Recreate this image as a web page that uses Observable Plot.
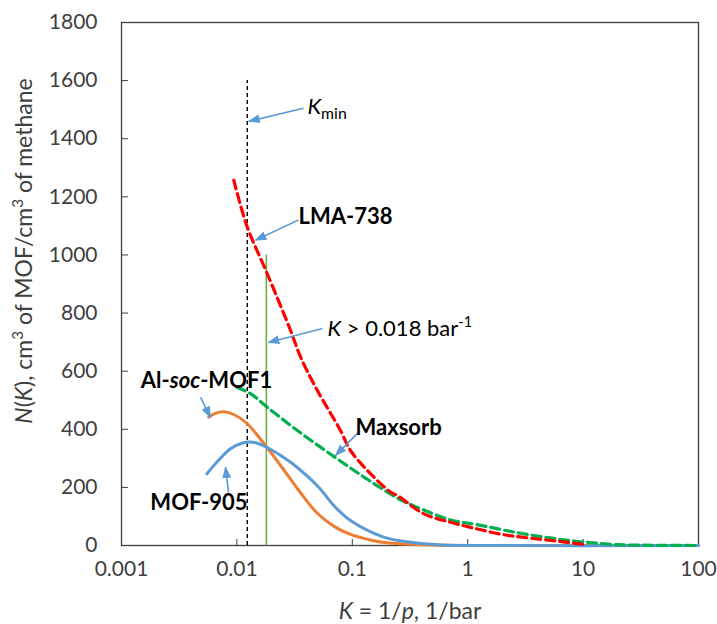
<!DOCTYPE html>
<html><head><meta charset="utf-8">
<script src="https://cdn.jsdelivr.net/npm/d3@7"></script>
<script src="https://cdn.jsdelivr.net/npm/@observablehq/plot@0.6"></script>
<style>body{margin:0;background:#fff} svg{display:block}</style>
</head><body><div id="chart"></div>
<script>
// ---- axis ticks ----
const xTicks = [0.001, 0.01, 0.1, 1, 10, 100];
const yTicks = [0, 200, 400, 600, 800, 1000, 1200, 1400, 1600, 1800];

// ---- series (K in 1/bar, N(K)) ----
const lmaK = [0.0094, 0.0123, 0.0183, 0.0291, 0.0356, 0.0497, 0.079, 0.0964, 0.154, 0.214, 0.25, 0.417, 0.709, 1.13, 2, 3.7, 7.3, 10];
const lmaN = [1257, 1096, 936, 741, 649, 534, 396, 327, 235, 184, 170, 109, 80, 60, 38, 24, 11, 4];

const maxK = [0.01, 0.0131, 0.0183, 0.035, 0.07, 0.135, 0.26, 0.4, 0.71, 1.2, 2.7, 5.2, 9.5, 20, 50, 100];
const maxN = [545, 523, 476, 390, 305, 228, 158, 125, 88, 72, 44, 26, 13, 3, 0.5, 0];

const alK = [0.0057, 0.0065, 0.0077, 0.0095, 0.0123, 0.0181, 0.025, 0.035, 0.05, 0.07, 0.0964, 0.14, 0.19, 0.32, 0.6, 1, 100];
const alN = [442, 455, 460, 450, 419, 339, 265, 185, 110, 65, 38, 20, 10, 4, 1, 0, 0];

const mofK = [0.0055, 0.007, 0.0088, 0.011, 0.0131, 0.015, 0.018, 0.025, 0.03, 0.05, 0.07, 0.0964, 0.187, 0.32, 0.6, 1, 100];
const mofN = [247, 295, 333, 352, 356, 352, 339, 305, 283, 205, 135, 86, 29, 11, 2, 0, 0];

// ---- reference lines ----
const kMin = 0.0123, kMinTop = 1600;
const kLimit = 0.018, kLimitTop = 1000;

// ---- annotations ----
const annText   = ["*K*_{min}", "LMA-738", "*K* > 0.018 bar^{-1}", "Al-*soc*-MOF1", "MOF-905", "Maxsorb"];
const annK      = [0.0409, 0.0342, 0.061, 0.00545, 0.00469, 0.1066];
const annN      = [1509, 1130, 747, 568, 148, 406];
const annAnchor = ["start", "start", "start", "middle", "middle", "start"];
const annBold   = [false, true, false, true, true, true];

const arrK1 = [0.0378, 0.0342, 0.0552, 0.00484, 0.00846, 0.111];
const arrN1 = [1505, 1120, 747, 510, 183, 386];
const arrK2 = [0.0127, 0.0145, 0.0188, 0.0059, 0.00796, 0.0715];
const arrN2 = [1460, 1051, 699, 441, 269, 310];

const yLabel = "*N*(*K*), cm^{3} of MOF/cm^{3} of methane";
const xLabel = "*K* = 1/*p*, 1/bar";

// ---- build tables ----
const toRows = (ks, ns) => ks.map((k, i) => ({k, n: ns[i]}));
const lma = toRows(lmaK, lmaN), maxsorb = toRows(maxK, maxN), al = toRows(alK, alN), mof = toRows(mofK, mofN);
const anns = annText.map((t, i) => ({t, k: annK[i], n: annN[i], anchor: annAnchor[i], bold: annBold[i]}));
const arrows = arrK1.map((k, i) => ({k1: k, n1: arrN1[i], k2: arrK2[i], n2: arrN2[i]}));

const FS = 21;
const AFS = 22;
const TFS = 23;
const axisColor = "#404040";

const chart = Plot.plot({
  width: 717, height: 624,
  marginLeft: 121, marginRight: 19, marginTop: 22, marginBottom: 79,
  style: {fontFamily: "Lato, sans-serif", fontSize: FS + "px", background: "white"},
  x: {type: "log", domain: [0.001, 100]},
  y: {domain: [0, 1800]},
  marks: [
    Plot.frame({stroke: axisColor, strokeWidth: 1.3}),
    Plot.axisX(xTicks, {tickSize: 6, dy: -6, fill: "none", stroke: axisColor, label: null}),
    Plot.axisX(xTicks, {tickSize: 0, tickPadding: 16, fill: axisColor, fontSize: FS, label: null, tickFormat: d => String(d)}),
    Plot.axisY(yTicks, {tickSize: 7, dx: 7, fill: "none", stroke: axisColor, label: null}),
    Plot.axisY(yTicks, {tickSize: 0, tickPadding: 24, fill: axisColor, fontSize: FS, label: null, tickFormat: d => String(d)}),
    Plot.ruleX([kMin], {x: d => d, y1: 0, y2: kMinTop, stroke: "#000", strokeWidth: 1.4, strokeDasharray: "4,3"}),
    Plot.ruleX([kLimit], {x: d => d, y1: 0, y2: kLimitTop, stroke: "#70AD47", strokeWidth: 1.6}),
    Plot.line(al, {x: "k", y: "n", stroke: "#ED7D31", strokeWidth: 3, curve: "catmull-rom"}),
    Plot.line(mof, {x: "k", y: "n", stroke: "#5B9BD5", strokeWidth: 3, curve: "catmull-rom"}),
    Plot.line(maxsorb, {x: "k", y: "n", stroke: "#00B050", strokeWidth: 3.2, strokeDasharray: "9,5", curve: "catmull-rom"}),
    Plot.line(lma, {x: "k", y: "n", stroke: "#FF0000", strokeWidth: 3.2, strokeDasharray: "9,5", curve: "catmull-rom"}),
    Plot.link(arrows, {x1: "k1", y1: "n1", x2: "k2", y2: "n2", stroke: "#5B9BD5", strokeWidth: 1.6}),
    Plot.text(anns.filter(d => d.anchor === "start" && d.bold), {x: "k", y: "n", text: "t", textAnchor: "start", fontWeight: "bold", fontSize: AFS, fill: "#000"}),
    Plot.text(anns.filter(d => d.anchor === "middle" && d.bold), {x: "k", y: "n", text: "t", textAnchor: "middle", fontWeight: "bold", fontSize: AFS, fill: "#000"}),
    Plot.text(anns.filter(d => !d.bold), {x: "k", y: "n", text: "t", textAnchor: "start", fontSize: AFS, fill: "#000"}),
    Plot.text([yLabel], {frameAnchor: "left", text: d => d, textAnchor: "middle", lineAnchor: "middle", rotate: -90, dx: -97, dy: -33, fontSize: TFS, fill: axisColor}),
    Plot.text([xLabel], {frameAnchor: "bottom", text: d => d, textAnchor: "middle", lineAnchor: "middle", dy: 66, fontSize: TFS, fill: axisColor})
  ]
});

// arrowheads
const svg = d3.select(chart);
svg.insert("defs", ":first-child").append("marker")
  .attr("id", "tri").attr("viewBox", "0 0 10 10").attr("refX", 9).attr("refY", 5)
  .attr("markerWidth", 12).attr("markerHeight", 9).attr("markerUnits", "userSpaceOnUse")
  .attr("preserveAspectRatio", "none").attr("orient", "auto")
  .append("path").attr("d", "M0,0L10,5L0,10z").attr("fill", "#5B9BD5");
svg.selectAll('g[aria-label="link"] path').attr("marker-end", "url(#tri)");

// rich text: *italic*, ^{sup}, _{sub}
svg.selectAll("text").each(function() {
  const el = this;
  const s = el.textContent;
  if (!/\*|\^\{|_\{/.test(s)) return;
  const fs = parseFloat(el.getAttribute("font-size")) || parseFloat(el.parentNode.getAttribute("font-size")) || FS;
  el.textContent = "";
  const re = /\*([^*]+)\*|\^\{([^}]+)\}|_\{([^}]+)\}|([^*^_]+)/g;
  let m, shift = 0;
  while ((m = re.exec(s))) {
    const t = d3.select(el).append("tspan");
    let target = 0, txt;
    if (m[1] !== undefined) { txt = m[1]; t.attr("font-style", "italic"); }
    else if (m[2] !== undefined) { txt = m[2]; target = -0.38 * fs; t.attr("font-size", (0.66 * fs) + "px"); }
    else if (m[3] !== undefined) { txt = m[3]; target = 0.22 * fs; t.attr("font-size", (0.72 * fs) + "px"); }
    else { txt = m[4]; }
    if (target !== shift) { t.attr("dy", target - shift); shift = target; }
    t.text(txt);
  }
});

document.getElementById("chart").appendChild(chart);
</script>
</body></html>
